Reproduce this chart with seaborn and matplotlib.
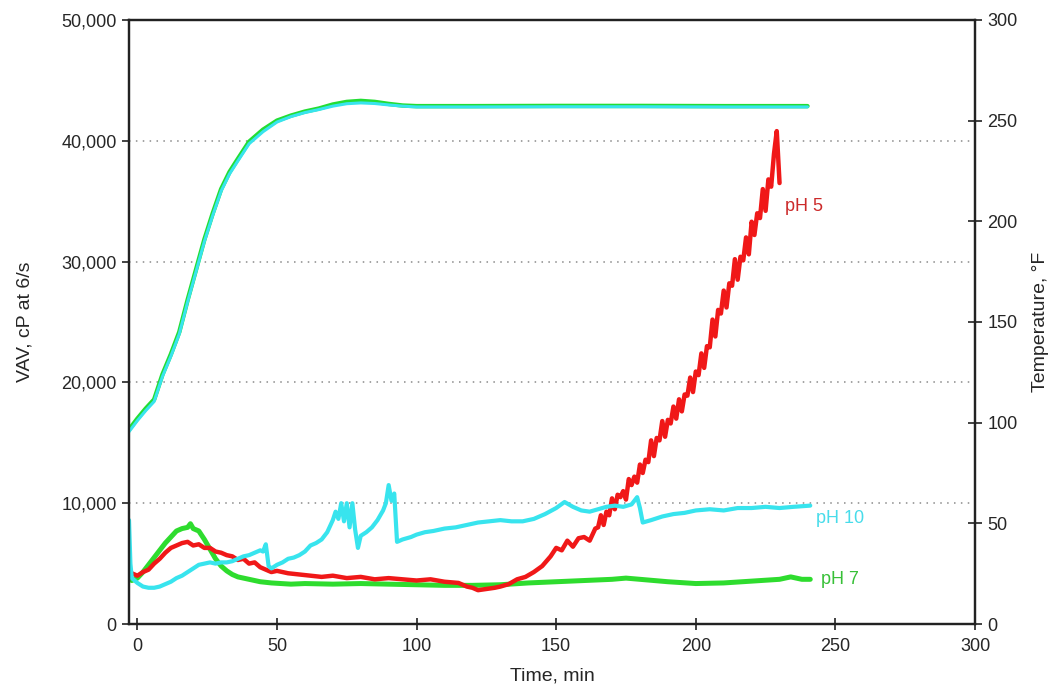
import matplotlib
matplotlib.use("Agg")
import matplotlib.pyplot as plt
import seaborn as sns

# ---------------- data ----------------
# temperature (deg F), two nearly identical runs
temp_time = [-3, 0, 3, 6, 9, 12, 15, 18, 21, 24, 27, 30, 33, 36, 40, 45, 50, 55, 60,
             65, 70, 75, 80, 85, 90, 95, 100, 120, 150, 180, 210, 240]
temp_green = [96.5, 102, 107, 111.5, 124, 134, 145, 161, 176, 191, 204, 216, 224.5, 231,
              239.5, 245.5, 250, 252.5, 254.5, 256, 258, 259.3, 259.8, 259.3, 258.3, 257.5,
              257.2, 257.2, 257.3, 257.3, 257.2, 257.2]
temp_cyan = [95.5, 101, 106, 110.5, 123, 133, 144, 160, 175, 190, 203, 215, 223.5, 230,
             238.5, 244.5, 249.3, 252, 254, 255.5, 257.2, 258.4, 258.8, 258.5, 257.8, 257.2,
             256.8, 256.8, 256.9, 256.9, 256.8, 256.8]

# pH 5 viscosity (cP)
ph5_time = [-2, 0, 2, 4, 6, 8, 10, 12, 14, 16, 18, 20, 22, 24, 26, 28, 30, 32, 34, 36, 38,
            40, 42, 44, 46, 48, 50, 54, 58, 62, 66, 70, 75, 80, 85, 90, 95, 100, 105, 110,
            115, 118, 120, 122, 125, 128, 130, 133, 136, 139, 142, 145, 148, 150, 152, 154,
            156, 158, 160, 162, 164,
            165, 166, 167, 168, 169, 170, 171, 172, 173, 174, 175, 176, 177, 178, 179, 180,
            181, 182, 183, 184, 185, 186, 187, 188, 189, 190, 191, 192, 193, 194, 195, 196,
            197, 198, 199, 200, 201, 202, 203, 204, 205, 206, 207, 208, 209, 210, 211, 212,
            213, 214, 215, 216, 217, 218, 219, 220, 221, 222, 223, 224, 225, 226, 227, 228,
            229, 230]
ph5_vav = [4200, 4000, 4300, 4500, 5000, 5400, 5900, 6300, 6500, 6700, 6800, 6500, 6600, 6300,
           6300, 6000, 5900, 5700, 5600, 5300, 5400, 5000, 5100, 4700, 4500, 4300, 4400, 4200,
           4100, 4000, 3900, 4000, 3800, 3900, 3700, 3800, 3700, 3600, 3700, 3500, 3400, 3100,
           3000, 2800, 2900, 3000, 3100, 3300, 3700, 3900, 4300, 4800, 5600, 6300, 6100, 6900,
           6400, 7100, 7200, 6900, 7900,
           8000, 9000, 8200, 9300, 9000, 10400, 9500, 10700, 10500, 11000, 10300, 12000,
           11500, 12200, 11700, 13200, 12500, 13600, 13400, 15200, 13900, 15400, 15200, 16800,
           15500, 16900, 16600, 18000, 17000, 18600, 17600, 19000, 18900, 20400, 19200, 20900,
           20600, 22400, 21200, 23000, 22900, 25200, 23800, 26000, 25700, 27600, 26200, 28200,
           28000, 30200, 28500, 30400, 30100, 32000, 30600, 33300, 32200, 34000, 33600, 36000,
           34200, 36800, 36200, 38900, 40800, 36500]

# pH 10 viscosity (cP)
ph10_time = [-3, -2.5, -2, 0, 2, 4, 6, 8, 10, 12, 14, 16, 18, 20, 22, 24, 26, 28, 30, 32, 34,
             36, 38, 40, 42, 44, 45, 46, 47, 48, 50, 52, 54, 56, 58, 60, 62, 64, 66, 68, 70,
             71, 72, 73, 74, 75, 76, 77, 78, 79, 80, 82, 84, 86, 88, 89, 90, 91, 92, 93, 95,
             98, 100, 103, 106, 110, 114, 118, 122, 126, 130, 134, 138, 142, 146, 150, 153,
             156, 159, 162, 165, 168, 171, 174, 177, 179, 180, 181, 184, 188, 192, 196, 200,
             205, 210, 215, 220, 225, 230, 235, 241]
ph10_vav = [8600, 5000, 3800, 3400, 3100, 3000, 3000, 3100, 3300, 3500, 3800, 4000, 4300,
            4600, 4900, 5000, 5100, 5000, 5100, 5100, 5200, 5400, 5600, 5700, 5900, 6100, 6000,
            6600, 4800, 4600, 4900, 5100, 5400, 5500, 5700, 6000, 6500, 6700, 7000, 7600, 8600,
            9300, 8700, 10000, 8500, 10000, 8000, 10000, 7800, 6300, 7300, 7600, 8000, 8600,
            9400, 10000, 11500, 10200, 10800, 6800, 7000, 7200, 7400, 7600, 7700, 7900, 8000,
            8200, 8400, 8500, 8600, 8500, 8500, 8700, 9100, 9600, 10100, 9700, 9400, 9300, 9500,
            9700, 9800, 9700, 9900, 10500, 9600, 8400, 8600, 8900, 9100, 9200, 9400, 9500, 9400,
            9600, 9600, 9700, 9600, 9700, 9800]

# pH 7 viscosity (cP)
ph7_time = [-2, 0, 2, 4, 6, 8, 10, 12, 14, 16, 18, 19, 20, 22, 24, 26, 28, 30, 32, 34, 36, 38,
            40, 44, 48, 55, 60, 70, 80, 90, 100, 110, 120, 130, 140, 150, 160, 170, 175, 180,
            190, 200, 210, 220, 230, 234, 238, 241]
ph7_vav = [3600, 3800, 4300, 4900, 5500, 6100, 6700, 7200, 7700, 7900, 8000, 8300, 7900, 7700,
           7000, 6200, 5400, 4800, 4400, 4100, 3900, 3800, 3700, 3500, 3400, 3300, 3350, 3300,
           3350, 3300, 3250, 3200, 3200, 3250, 3400, 3500, 3600, 3700, 3800, 3700, 3500, 3350,
           3400, 3550, 3700, 3900, 3700, 3700]

series_labels = ["pH 5", "pH 10", "pH 7"]
x_ticks = [0, 50, 100, 150, 200, 250, 300]
y_ticks = [0, 10000, 20000, 30000, 40000, 50000]
t_ticks = [0, 50, 100, 150, 200, 250, 300]

# ---------------- plot ----------------
sns.set_style("white")
plt.rcParams["font.family"] = ["Liberation Sans", "DejaVu Sans"]

RED = "#f01818"
CYAN = "#38e4ee"
GREEN = "#2edc2e"

fig = plt.figure(figsize=(10.6, 6.88), dpi=100)
ax = fig.add_axes([0.1217, 0.093, 0.7981, 0.878])
ax2 = ax.twinx()

sns.lineplot(x=ph7_time, y=ph7_vav, ax=ax, color=GREEN, lw=3.6, estimator=None, sort=False)
sns.lineplot(x=ph5_time, y=ph5_vav, ax=ax, color=RED, lw=3.2, estimator=None, sort=False)
sns.lineplot(x=ph10_time, y=ph10_vav, ax=ax, color=CYAN, lw=3.0, estimator=None, sort=False)

sns.lineplot(x=temp_time, y=temp_green, ax=ax2, color="#22dd33", lw=3.2, estimator=None, sort=False)
sns.lineplot(x=temp_time, y=temp_cyan, ax=ax2, color=CYAN, lw=2.2, estimator=None, sort=False)

ax.set_xlim(-3, 300)
ax.set_ylim(0, 50000)
ax2.set_ylim(0, 300)

ax.set_xticks(x_ticks)
ax.set_yticks(y_ticks)
ax.set_yticklabels([f"{v:,}" for v in y_ticks])
ax2.set_yticks(t_ticks)

ax.yaxis.grid(True, linestyle=(0, (1, 3.5)), color="#8a8a8a", lw=1.1)
ax.xaxis.grid(False)
ax2.grid(False)

for a in (ax, ax2):
    for s in a.spines.values():
        s.set_color("#222222")
        s.set_linewidth(1.6)
        s.set_visible(True)

ax.tick_params(axis="y", direction="out", length=5, width=1.2, color="#222222",
               labelsize=13, pad=4, left=True)
ax.tick_params(axis="x", direction="inout", length=8, width=1.2, color="#222222",
               labelsize=13, pad=6, bottom=True)
ax2.tick_params(axis="y", direction="inout", length=10, width=1.2, color="#222222",
                labelsize=13, pad=4, right=True)

ax.set_xlabel("Time, min", fontsize=14, labelpad=9)
ax.set_ylabel("VAV, cP at 6/s", fontsize=14, labelpad=20)
ax2.set_ylabel("Temperature, °F", fontsize=14, labelpad=10)

ax.text(232, 34600, series_labels[0], color="#cc2a2a", fontsize=13, ha="left", va="center")
ax.text(243, 8700, series_labels[1], color="#48dcea", fontsize=13, ha="left", va="center")
ax.text(245, 3700, series_labels[2], color="#38c038", fontsize=13, ha="left", va="center")

fig.savefig("out.png", dpi=100)
